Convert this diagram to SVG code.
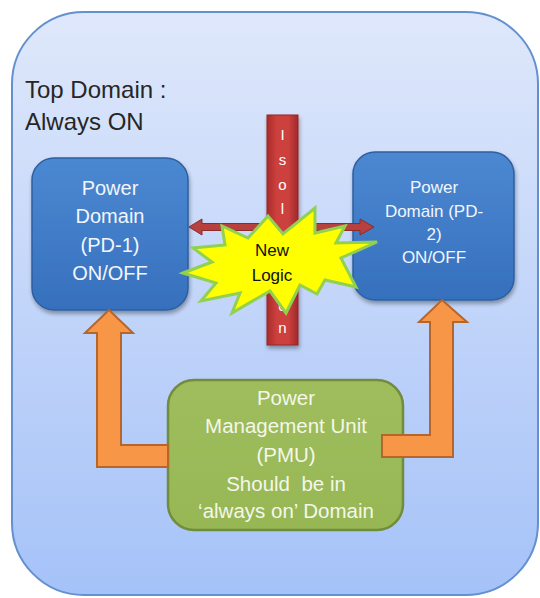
<svg xmlns="http://www.w3.org/2000/svg" width="540" height="598" viewBox="0 0 540 598">
  <defs>
    <linearGradient id="gTop" x1="0" y1="0" x2="0" y2="1">
      <stop offset="0" stop-color="#dfe8fb"/>
      <stop offset="1" stop-color="#a5c2f8"/>
    </linearGradient>
    <linearGradient id="gBlue" x1="0" y1="0" x2="0" y2="1">
      <stop offset="0" stop-color="#4c88d2"/>
      <stop offset="1" stop-color="#3670bd"/>
    </linearGradient>
    <linearGradient id="gGreen" x1="0" y1="0" x2="0" y2="1">
      <stop offset="0" stop-color="#9fbd5c"/>
      <stop offset="1" stop-color="#97b755"/>
    </linearGradient>
    <linearGradient id="gRed" x1="0" y1="0" x2="1" y2="0">
      <stop offset="0" stop-color="#a82c2c"/>
      <stop offset="0.3" stop-color="#cc3f3d"/>
      <stop offset="0.7" stop-color="#cc3f3d"/>
      <stop offset="1" stop-color="#9e2a2a"/>
    </linearGradient>
    <filter id="shadow" x="-10%" y="-10%" width="130%" height="130%">
      <feGaussianBlur in="SourceAlpha" stdDeviation="2"/>
      <feOffset dx="1" dy="3" result="b"/>
      <feComponentTransfer><feFuncA type="linear" slope="0.35"/></feComponentTransfer>
      <feMerge><feMergeNode/><feMergeNode in="SourceGraphic"/></feMerge>
    </filter>
  </defs>
  <style>
    .lbl { font-family: "Liberation Sans", Arial, sans-serif; text-anchor: middle; }
    .pd { fill: url(#gBlue); stroke: #2d5f9f; stroke-width: 1.5; }
    .pdt { fill: #f2f6fc; }
    .pmu { fill: url(#gGreen); stroke: #718c3c; stroke-width: 2.5; }
    .pmut { fill: #f4f7ea; font-size: 20.5px; }
    .orange { fill: #f79646; stroke: #b7662b; stroke-width: 2; stroke-linejoin: miter; }
    .iso { fill: #ffffff; font-size: 15px; }
  </style>

  <!-- always-on top domain -->
  <g id="top-domain">
    <rect x="12" y="12" width="526" height="583" rx="72" ry="72" fill="url(#gTop)" stroke="#6490d0" stroke-width="2"/>
    <text x="25" y="98" font-family="Liberation Sans, Arial, sans-serif" font-size="24" fill="#262626">Top Domain :</text>
    <text x="25" y="130" font-family="Liberation Sans, Arial, sans-serif" font-size="24" fill="#262626">Always ON</text>
  </g>

  <g id="pd1">
    <rect class="pd" x="32" y="158" width="156" height="152" rx="22" filter="url(#shadow)"/>
    <text class="lbl pdt" font-size="20" x="110" y="195">Power</text>
    <text class="lbl pdt" font-size="20" x="110" y="223">Domain</text>
    <text class="lbl pdt" font-size="20" x="110" y="252">(PD-1)</text>
    <text class="lbl pdt" font-size="20" x="110" y="280">ON/OFF</text>
  </g>

  <g id="pd2">
    <rect class="pd" x="353" y="152" width="161" height="148" rx="22" filter="url(#shadow)"/>
    <text class="lbl pdt" font-size="17" x="434" y="193">Power</text>
    <text class="lbl pdt" font-size="17" x="434" y="217">Domain (PD-</text>
    <text class="lbl pdt" font-size="17" x="434" y="240">2)</text>
    <text class="lbl pdt" font-size="17" x="434" y="263">ON/OFF</text>
  </g>

  <g id="pmu">
    <rect class="pmu" x="168" y="380" width="235" height="150" rx="26"/>
    <text class="lbl pmut" x="286" y="405">Power</text>
    <text class="lbl pmut" x="286" y="433">Management Unit</text>
    <text class="lbl pmut" x="286" y="462">(PMU)</text>
    <text class="lbl pmut" x="286" y="491" xml:space="preserve">Should  be in</text>
    <text class="lbl pmut" x="286" y="518">‘always on’ Domain</text>
  </g>

  <g id="connectors">
    <!-- signal path between the two switchable domains -->
    <polygon points="189,227 202,219 202,223.5 360,223.5 360,219 374,227 360,235 360,230.5 202,230.5 202,235" fill="#b7413e" stroke="#8a2c2a" stroke-width="1"/>
    <!-- PMU control to PD-1 -->
    <polygon class="orange" points="109,310 133,333 121,333 121,445 168,445 168,467 97,467 97,333 85,333"/>
    <!-- PMU control to PD-2 -->
    <polygon class="orange" points="442,300 467,322 453,322 453,457 382,457 382,435 430,435 430,322 419,322"/>
  </g>

  <!-- isolation barrier; its middle letters sit under the burst and are not drawn -->
  <g id="isolation">
    <rect x="267" y="115" width="31" height="230" fill="url(#gRed)" stroke="#962626" stroke-width="1" filter="url(#shadow)"/>
    <text class="lbl iso" x="282.5" y="140">I</text>
    <text class="lbl iso" x="282.5" y="165">s</text>
    <text class="lbl iso" x="282.5" y="190">o</text>
    <text class="lbl iso" x="282.5" y="214">l</text>
    <text class="lbl iso" x="282.5" y="311">o</text>
    <text class="lbl iso" x="282.5" y="333">n</text>
  </g>

  <g id="new-logic">
    <polygon points="183,273 212,262 193,248 225,245 222,226 248,238 268,216 283,234 315,208 315,233 345,226 336,243 377,242 341,258 356,287 325,280 317,294 300,285 286,313 270,291 232,313 240,293 201,301 216,283" fill="#ffff00" stroke="#92d050" stroke-width="3" stroke-linejoin="miter"/>
    <text class="lbl" font-size="17" fill="#111" x="272" y="256">New</text>
    <text class="lbl" font-size="17" fill="#111" x="272" y="281">Logic</text>
  </g>
</svg>
